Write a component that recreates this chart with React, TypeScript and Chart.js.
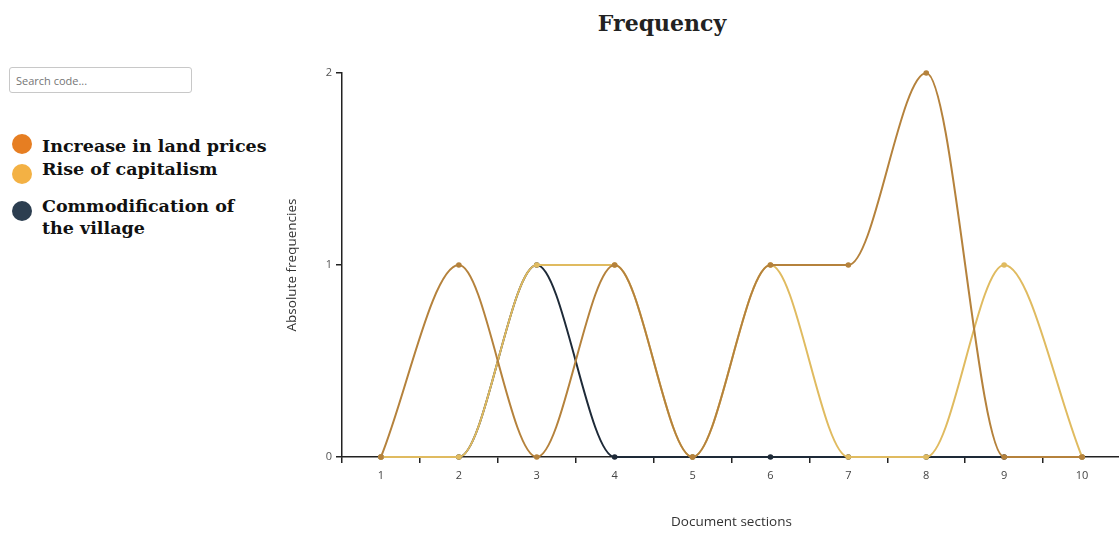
import React, { useEffect, useRef } from "react";
import { Chart, registerables } from "chart.js";

Chart.register(...registerables);

const sections = ["1", "2", "3", "4", "5", "6", "7", "8", "9", "10"];
const landPrices = [0, 1, 0, 1, 0, 1, 1, 2, 0, 0];
const capitalism = [0, 0, 1, 1, 0, 1, 0, 0, 1, 0];
const commodification = [0, 0, 1, 0, 0, 0, 0, 0, 0, 0];

const codeNames = ["Increase in land prices", "Rise of capitalism", "Commodification of the village"];
const legendColors = ["#e67e22", "#f3b144", "#2c3e50"];
const lineColors = ["#b5823c", "#e0bb60", "#1e2a38"];

const tickFont = { family: "'Open Sans', sans-serif", size: 11 };
const titleFont = { family: "'Open Sans', sans-serif", size: 13.5 };

export default function App() {
  const canvasRef = useRef<HTMLCanvasElement | null>(null);

  useEffect(() => {
    if (!canvasRef.current) return;
    const series = [landPrices, capitalism, commodification];
    const chart = new Chart(canvasRef.current, {
      type: "line",
      data: {
        labels: sections,
        datasets: series.map((d, i) => ({
          label: codeNames[i],
          data: d,
          borderColor: lineColors[i],
          backgroundColor: lineColors[i],
          pointBackgroundColor: lineColors[i],
          pointBorderWidth: 0,
          pointRadius: 2.8,
          borderWidth: 2,
          cubicInterpolationMode: "monotone" as const,
          fill: false,
          clip: false as any,
        })),
      },
      options: {
        responsive: false,
        animation: false,
        layout: { padding: { top: 13, right: 0, left: 0, bottom: 0 } },
        plugins: {
          legend: { display: false },
          tooltip: { enabled: false },
          title: { display: false },
        },
        scales: {
          x: {
            type: "category",
            offset: true,
            grid: {
              offset: true,
              drawOnChartArea: false,
              drawTicks: true,
              tickLength: 6,
              color: "#222",
              lineWidth: 1.5,
            },
            border: { color: "#222", width: 1.5 },
            ticks: { color: "#444", font: tickFont, padding: 6, maxRotation: 0 },
            title: {
              display: true,
              text: "Document sections",
              color: "#333",
              font: titleFont,
              padding: { top: 0, bottom: 3 },
            },
            afterFit: (s: any) => {
              s.height = 76;
            },
          },
          y: {
            min: 0,
            max: 2,
            grid: {
              drawOnChartArea: false,
              drawTicks: true,
              tickLength: 6,
              color: "#222",
              lineWidth: 1.5,
            },
            border: { color: "#222", width: 1.5 },
            ticks: { stepSize: 1, color: "#555", font: tickFont, padding: 4 },
            title: {
              display: true,
              text: "Absolute frequencies",
              color: "#333",
              font: titleFont,
              padding: { top: 4, bottom: 0 },
            },
            afterFit: (s: any) => {
              s.width = 62;
            },
          },
        },
      },
    });
    return () => chart.destroy();
  }, []);

  const legendTops = [135, 158, 195];
  const circleTops = [134, 164, 201];
  const legendWidths = [240, 240, 210];

  return (
    <div
      style={{
        position: "fixed",
        left: 0,
        top: 0,
        width: 1119,
        height: 533,
        overflow: "hidden",
        background: "#fff",
      }}
    >
      <input
        placeholder="Search code..."
        style={{
          position: "absolute",
          left: 9,
          top: 67,
          width: 183,
          height: 26,
          boxSizing: "border-box",
          border: "1px solid #c8c8c8",
          borderRadius: 3,
          padding: "0 6px",
          fontFamily: "'Open Sans', sans-serif",
          fontSize: 11,
          outline: "none",
        }}
      />
      {codeNames.map((name, i) => (
        <React.Fragment key={name}>
          <div
            style={{
              position: "absolute",
              left: 12,
              top: circleTops[i],
              width: 20,
              height: 20,
              borderRadius: "50%",
              background: legendColors[i],
            }}
          />
          <div
            style={{
              position: "absolute",
              left: 42,
              top: legendTops[i],
              width: legendWidths[i],
              fontFamily: "'DejaVu Serif', serif",
              fontWeight: "bold",
              fontSize: 17.5,
              lineHeight: "22px",
              color: "#111",
            }}
          >
            {name}
          </div>
        </React.Fragment>
      ))}
      <div
        style={{
          position: "absolute",
          left: 512,
          top: 10,
          width: 300,
          textAlign: "center",
          fontFamily: "'DejaVu Serif', serif",
          fontWeight: "bold",
          fontSize: 22,
          lineHeight: "26px",
          color: "#222",
        }}
      >
        Frequency
      </div>
      <canvas
        ref={canvasRef}
        width={845}
        height={473}
        style={{ position: "absolute", left: 280, top: 60, width: 845, height: 473 }}
      />
    </div>
  );
}
